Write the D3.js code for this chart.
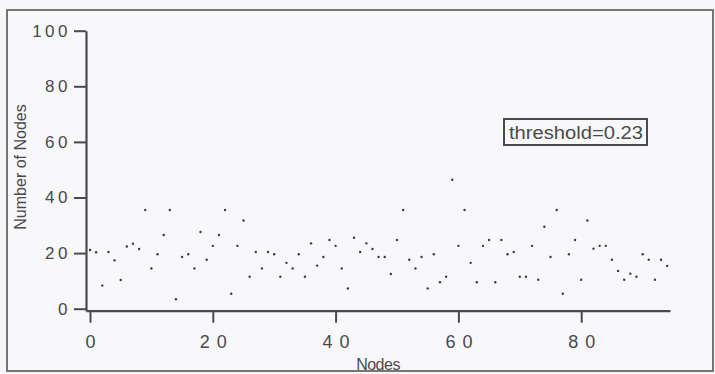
<!DOCTYPE html>
<html>
<head>
<meta charset="utf-8">
<script src="https://cdn.jsdelivr.net/npm/d3@7"></script>
<style>
  body { margin: 0; background: #f7f6f8; }
  svg { display: block; font-family: "Liberation Sans", Arial, sans-serif; }
</style>
</head>
<body>
<svg id="chart" width="715" height="374"></svg>
<script>
// node counts, one per node index 0..94
const counts = [
  21.1, 20.3, 8.3, 20.4, 17.4, 10.3, 22.4, 23.4, 21.5, 35.5,
  14.5, 19.6, 26.5, 35.5, 3.4, 18.6, 19.6, 14.5, 27.6, 17.6,
  22.6, 26.5, 35.5, 5.4, 22.6, 31.7, 11.5, 20.4, 14.5, 20.4,
  19.6, 11.5, 16.5, 14.5, 19.6, 11.5, 23.5, 15.5, 18.6, 24.7,
  22.6, 14.5, 7.3, 25.5, 20.4, 23.5, 21.5, 18.6, 18.6, 12.5,
  24.7, 35.5, 17.6, 14.5, 18.6, 7.3, 19.6, 9.5, 11.5, 46.4,
  22.6, 35.5, 16.5, 9.5, 22.6, 24.7, 9.5, 24.7, 19.6, 20.4,
  11.5, 11.5, 22.6, 10.4, 29.5, 18.6, 35.5, 5.4, 19.6, 24.7,
  10.4, 31.7, 21.6, 22.6, 22.6, 17.6, 13.6, 10.4, 12.6, 11.5,
  19.6, 17.6, 10.4, 17.6, 15.4
];
const xTicks = [0, 20, 40, 60, 80];
const yTicks = [0, 20, 40, 60, 80, 100];
const note = "threshold=0.23";

const svg = d3.select("#chart");
const ink = "#4a4a4c";

// outer frame
svg.append("rect")
  .attr("x", 7).attr("y", 10)
  .attr("width", 706).attr("height", 361)
  .attr("fill", "#f8f7f9")
  .attr("stroke", "#555").attr("stroke-width", 1.6);

const x = d3.scaleLinear().domain([-0.65, 94.46]).range([86, 670]);
const y = d3.scaleLinear().domain([-0.72, 100]).range([310.7, 30.7]);

// x axis
const gx = svg.append("g")
  .attr("transform", "translate(0,310.7)")
  .call(d3.axisBottom(x).tickValues(xTicks).tickSize(12).tickSizeOuter(0).tickFormat(d3.format("d")));
gx.select(".domain").attr("stroke", ink).attr("stroke-width", 2.2);
gx.selectAll(".tick line").attr("stroke", ink).attr("stroke-width", 2);
gx.selectAll(".tick text")
  .attr("fill", ink)
  .style("font-size", "18px")
  .style("letter-spacing", "7px")
  .attr("x", 3.5)
  .attr("y", 0)
  .attr("dy", "37px");

// y axis
const gy = svg.append("g")
  .attr("transform", "translate(86,0)")
  .call(d3.axisLeft(y).tickValues(yTicks).tickSize(12).tickSizeOuter(0).tickFormat(d3.format("d")));
gy.select(".domain").attr("stroke", ink).attr("stroke-width", 2.2);
gy.selectAll(".tick line").attr("stroke", ink).attr("stroke-width", 2);
gy.selectAll(".tick text")
  .attr("fill", ink)
  .style("font-size", "17px")
  .style("letter-spacing", "3.5px")
  .attr("x", -15);

gx.selectAll("text").attr("font-family", null);
gy.selectAll("text").attr("font-family", null);

// points
svg.append("g")
  .selectAll("circle")
  .data(counts)
  .join("circle")
  .attr("cx", (d, i) => x(i))
  .attr("cy", d => y(d))
  .attr("r", 1.2)
  .attr("fill", "#3c3c3e");

// axis titles
svg.append("text")
  .attr("x", 378).attr("y", 370)
  .attr("text-anchor", "middle")
  .attr("fill", ink)
  .style("font-size", "16px")
  .style("letter-spacing", "-0.5px")
  .text("Nodes");

svg.append("text")
  .attr("transform", "translate(26,167) rotate(-90)")
  .attr("text-anchor", "middle")
  .attr("fill", ink)
  .style("font-size", "16px")
  .text("Number of Nodes");

// threshold note
svg.append("rect")
  .attr("x", 504).attr("y", 119)
  .attr("width", 143).attr("height", 26)
  .attr("fill", "none")
  .attr("stroke", ink).attr("stroke-width", 2);
svg.append("text")
  .attr("x", 509).attr("y", 139)
  .attr("fill", ink)
  .style("font-size", "18px")
  .attr("textLength", 134)
  .attr("lengthAdjust", "spacingAndGlyphs")
  .text(note);
</script>
</body>
</html>
